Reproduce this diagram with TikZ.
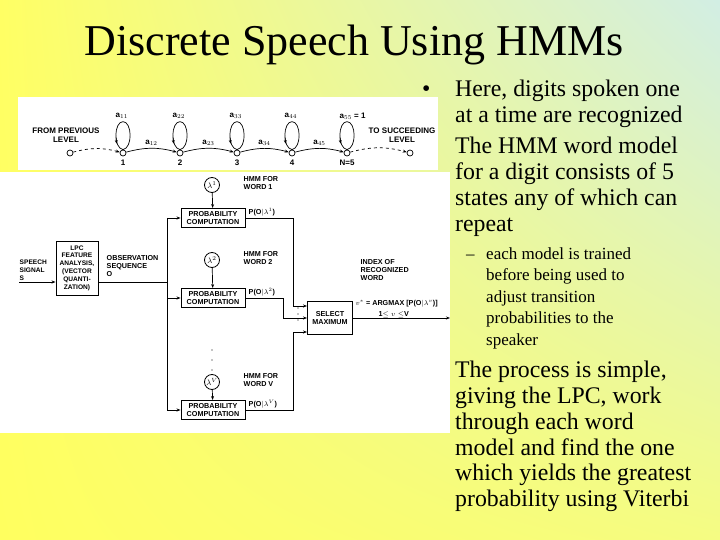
\documentclass[tikz,border=0pt]{standalone}
\usepackage{fontspec}
\setmainfont{Liberation Serif}
\setsansfont{Liberation Sans}
\usetikzlibrary{arrows.meta,calc,shadings}
\definecolor{cul}{RGB}{255,255,100}
\definecolor{cur}{RGB}{210,238,228}
\definecolor{cll}{RGB}{255,255,95}
\definecolor{clr}{RGB}{245,252,130}
\begin{document}
\begin{tikzpicture}[x=1pt,y=-1pt,
  lbl/.style={font=\sffamily\bfseries\fontsize{7.2}{8}\selectfont,inner sep=0.5pt,align=left},
  tl/.style={font=\sffamily\bfseries\fontsize{8}{8.5}\selectfont,inner sep=0.5pt},
  pbox/.style={draw,line width=0.9pt,minimum width=64pt,minimum height=19pt,font=\sffamily\bfseries\fontsize{7.2}{8}\selectfont,align=center,inner sep=0pt},
  lam/.style={draw,circle,line width=0.8pt,minimum size=15pt,inner sep=0pt,font=\fontsize{8}{8}\selectfont},
  st/.style={draw,circle,line width=0.7pt,minimum size=6pt,inner sep=0pt,fill=white},
  arr/.style={-{Stealth[length=4pt,width=3pt]},line width=0.7pt},
  ln/.style={line width=0.7pt},
  big/.style={font=\fontsize{23.8}{28}\selectfont,anchor=base west,inner sep=0pt},
  small/.style={font=\fontsize{17}{20}\selectfont,anchor=base west,inner sep=0pt}]
\useasboundingbox (0,0) rectangle (720,540);
\shade[upper left=cul,upper right=cur,lower left=cll,lower right=clr] (0,0) rectangle (720,540);
\node[font=\fontsize{44}{48}\selectfont] (title) at (354,45) {Discrete Speech Using HMMs};
% top image
\fill[white] (18,97) rectangle (438,170);
\node[st] (s0) at (70,153) {};
\node[st] (s1) at (123,153) {};
\node[st] (s2) at (180,153) {};
\node[st] (s3) at (237,153) {};
\node[st] (s4) at (292,153) {};
\node[st] (s5) at (347,153) {};
\node[st] (s6) at (410,153) {};
\draw[ln,dashed,-{Stealth[length=4pt]}] (s0) to[bend left=15] (s1);
\draw[ln,dashed,-{Stealth[length=4pt]}] (s5) to[bend left=15] (s6);
\foreach \a/\b/\l in {1/2/12,2/3/23,3/4/34,4/5/45}{
  \draw[ln,-{Stealth[length=4pt]}] (s\a) to[bend left=15] node[tl,above=2pt]{a$_{\l}$} (s\b);}
\foreach \i/\t in {1/a$_{11}$,2/a$_{22}$,3/a$_{33}$,4/a$_{44}$,5/a$_{55}$ = 1}{
  \draw[ln] (s\i.north) .. controls ($(s\i.north)+(-10,-2)$) and ($(s\i.north)+(-9,-28)$) .. ($(s\i.north)+(0,-28)$) .. controls ($(s\i.north)+(9,-28)$) and ($(s\i.north)+(10,-2)$) .. (s\i.north);
  \draw[-{Stealth[length=3.5pt,width=3pt]},ln] ($(s\i.north)+(-6.8,-12)$) -- ($(s\i.north)+(-6.5,-6)$);
  \node[tl,anchor=west] (a\i) at ($(s\i)+(-8,-37)$) {\t};}
\foreach \i/\t in {1/1,2/2,3/3,4/4,5/N=5}{\node[tl] (n\i) at ($(s\i)+(0,10)$) {\t};}
\node[tl,align=center] (fp) at (66,135) {FROM PREVIOUS\\LEVEL};
\node[tl,align=center] (ts) at (402,135) {TO SUCCEEDING\\LEVEL};
% bottom image
\fill[white] (0,172) rectangle (450,433);
\node[pbox,minimum width=42pt,minimum height=54pt,font=\sffamily\bfseries\fontsize{6.6}{7.8}\selectfont] (lpc) at (77,268) {LPC\\FEATURE\\ANALYSIS,\\(VECTOR\\QUANTI-\\ZATION)};
\node[pbox] (p1) at (213,218) {PROBABILITY\\COMPUTATION};
\node[pbox] (p2) at (213,298) {PROBABILITY\\COMPUTATION};
\node[pbox] (p3) at (213,410) {PROBABILITY\\COMPUTATION};
\node[pbox,minimum width=45pt,minimum height=33pt] (sel) at (330,318) {SELECT\\MAXIMUM};
\node[lam] (l1) at (212,185) {$\lambda^1$};
\node[lam] (l2) at (212,260) {$\lambda^2$};
\node[lam] (l3) at (212,382) {$\lambda^V$};
\draw[arr] (l1) -- (p1); \draw[arr] (l2) -- (p2); \draw[arr] (l3) -- (p3);
\coordinate (in) at (19,282);
\draw[arr] (in) -- (lpc.west|-in);
\coordinate (bt) at (167,218); \coordinate (bb) at (167,410);
\draw[ln] (lpc.east|-in) -- (167,282);
\draw[ln] (bt) -- (bb);
\draw[arr] (bt) -- (p1.west); \draw[arr] (167,298) -- (p2.west); \draw[arr] (bb) -- (p3.west);
\draw[arr] (p1.east) -- (293,218) -- (293,306) -- (sel.west|-0,306);
\draw[arr] (p2.east) -- (283,298) -- (283,318) -- (sel.west|-0,318);
\draw[arr] (p3.east) -- (293,410) -- (293,332) -- (sel.west|-0,332);
\coordinate (out) at (450,318);
\draw[arr] (sel.east) -- (out);
\foreach \y in {308,314,320}{\fill (298,\y) circle (0.7);}
\foreach \y in {350,360,370}{\fill (212,\y) circle (0.7);}
\node[lbl,anchor=west,font=\sffamily\bfseries\fontsize{6.6}{8}\selectfont] at (19,270) {SPEECH\\SIGNAL\\S};
\node[lbl,anchor=west] at (106,266) {OBSERVATION\\SEQUENCE\\O};
\node[lbl,anchor=west] at (243,183) {HMM FOR\\WORD 1};
\node[lbl,anchor=west] at (243,258) {HMM FOR\\WORD 2};
\node[lbl,anchor=west] at (243,380) {HMM FOR\\WORD V};
\node[lbl,anchor=south west] at (248,217) {P(O$|\lambda^1$)};
\node[lbl,anchor=south west] at (248,297) {P(O$|\lambda^2$)};
\node[lbl,anchor=south west] at (248,409) {P(O$|\lambda^V$)};
\node[lbl,anchor=west] at (360,270) {INDEX OF\\RECOGNIZED\\WORD};
\node[lbl,anchor=west] at (355,304) {$v^*$ = ARGMAX [P(O$|\lambda^v$)]};
\node[lbl,anchor=west] at (378,315) {1$\le v \le$V};
% text
\node[big] (b1) at (422,97) {•};
\node[big] (t1) at (455,97) {Here, digits spoken one};
\node[big] at (455,123) {at a time are recognized};
\node[big] at (455,154) {The HMM word model};
\node[big] at (455,180) {for a digit consists of 5};
\node[big] at (455,206) {states any of which can};
\node[big] at (455,232) {repeat};
\node[small] at (466,259) {–};
\node[small] at (486,259) {each model is trained};
\node[small] at (486,280) {before being used to};
\node[small] at (486,302) {adjust transition};
\node[small] at (486,323) {probabilities to the};
\node[small] at (486,345) {speaker};
\node[big] at (455,377) {The process is simple,};
\node[big] at (455,403) {giving the LPC, work};
\node[big] at (455,429) {through each word};
\node[big] at (455,455) {model and find the one};
\node[big] at (455,480) {which yields the greatest};
\node[big] at (455,506) {probability using Viterbi};
\end{tikzpicture}
\end{document}
